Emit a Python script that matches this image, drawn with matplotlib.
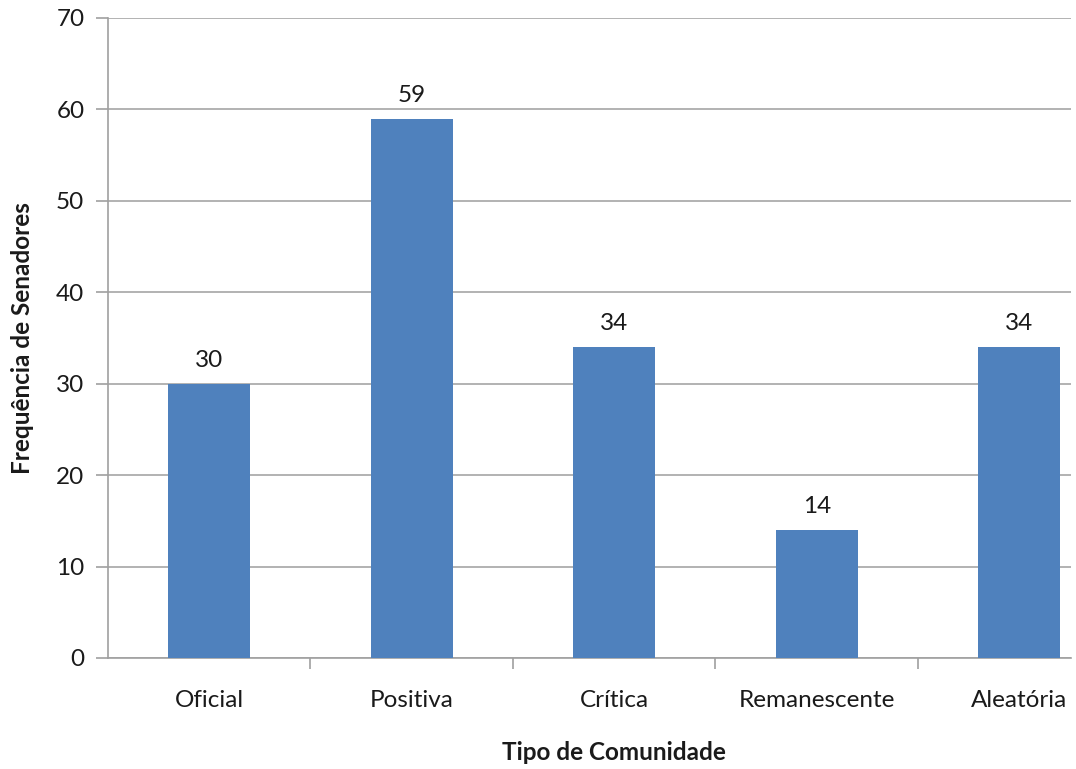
import matplotlib
matplotlib.use("Agg")
import matplotlib.pyplot as plt
import numpy as np

categorias = ["Oficial", "Positiva", "Crítica", "Remanescente", "Aleatória"]
frequencias = [30, 59, 34, 14, 34]

plt.rcParams['font.family'] = ['Lato', 'DejaVu Sans']
fs = 17.5

fig = plt.figure(figsize=(10.76, 7.69), dpi=100)
ax = fig.add_axes([108 / 1076, 111 / 769, 963 / 1076, 640 / 769])

x = np.arange(len(categorias))
bars = ax.bar(x, frequencias, width=0.405, color='#4f81bd', zorder=3)

for b, v in zip(bars, frequencias):
    ax.annotate(str(v), (b.get_x() + b.get_width() / 2, v),
                xytext=(0, 13), textcoords='offset pixels',
                ha='center', va='bottom', fontsize=fs, color='#1a1a1a')

ax.set_ylim(0, 70)
ax.set_xlim(-0.5, 4.256)
ax.set_yticks(range(0, 71, 10))
ax.yaxis.grid(True, color='#a6a6a6', linewidth=1.2, zorder=0)

ax.set_xticks(x)
ax.set_xticklabels(categorias)
ax.set_xticks(np.arange(0.5, 4, 1), minor=True)
ax.tick_params(axis='x', which='major', length=0, pad=23, labelsize=fs, labelcolor='#1a1a1a')
ax.tick_params(axis='x', which='minor', length=8, color='#a0a0a0', width=1.2)
ax.tick_params(axis='y', length=9, color='#a0a0a0', width=1.2, pad=8, labelsize=fs, labelcolor='#1a1a1a')

for s in ['top', 'right']:
    ax.spines[s].set_visible(False)
for s in ['left', 'bottom']:
    ax.spines[s].set_color('#a0a0a0')
    ax.spines[s].set_linewidth(1.2)
ax.spines['left'].set_bounds(0, 70)

# axis title centred on the full category span (-0.5 .. 4.5)
ax.set_xlabel("Tipo de Comunidade", fontsize=fs, fontweight='bold', color='#1a1a1a')
ax.xaxis.set_label_coords(ax.transAxes.inverted().transform(
    ax.transData.transform((2.0, 0)))[0], -0.147, transform=ax.transAxes)
ax.xaxis.label.set_va('center')
ax.set_ylabel("Frequência de Senadores", fontsize=fs, fontweight='bold', labelpad=16, color='#1a1a1a')

fig.savefig("out.png", dpi=100)
